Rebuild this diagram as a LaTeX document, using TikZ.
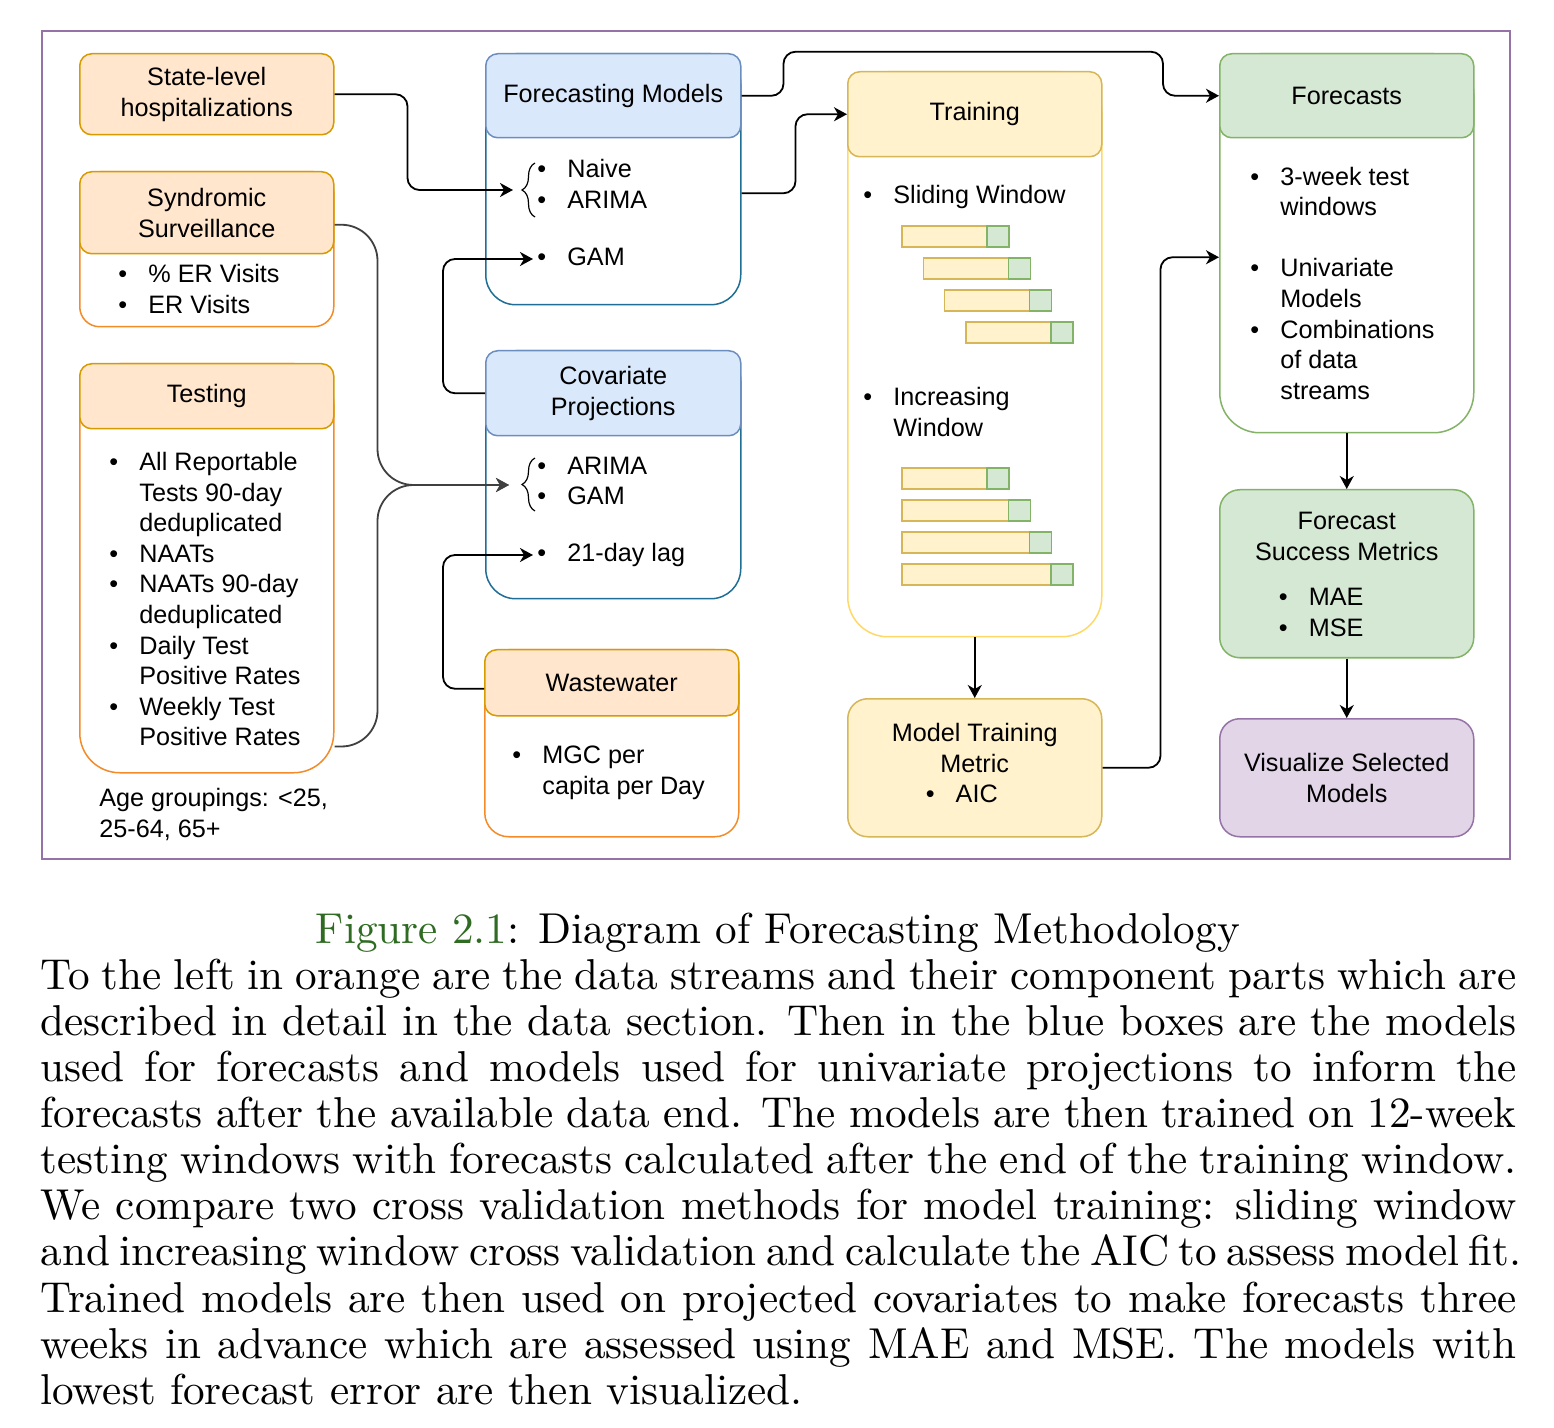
\documentclass[tikz,border=0pt]{standalone}
\usepackage{fontspec}
\newfontfamily\dgfont{Liberation Sans}
\newfontfamily\capfont{lmroman10-regular.otf}
\usetikzlibrary{arrows.meta,decorations.pathreplacing}

\definecolor{orgF}{HTML}{FFE6CC}
\definecolor{orgD}{HTML}{D79B00}
\definecolor{orgS}{HTML}{F48B29}
\definecolor{bluF}{HTML}{DAE8FC}
\definecolor{bluD}{HTML}{6C8EBF}
\definecolor{bluS}{HTML}{1F6E96}
\definecolor{ylwF}{HTML}{FFF2CC}
\definecolor{ylwD}{HTML}{D6B656}
\definecolor{ylwS}{HTML}{FFD966}
\definecolor{grnF}{HTML}{D5E8D4}
\definecolor{grnD}{HTML}{82B366}
\definecolor{prpF}{HTML}{E1D5E7}
\definecolor{prpD}{HTML}{9673A6}
\definecolor{figG}{HTML}{2F6B22}

\newcommand{\itm}[1]{\makebox[15pt][l]{\textbullet}#1\strut}
\newcommand{\cnt}[1]{\hspace*{15pt}#1\strut}
\newcommand{\jl}[1]{\makebox[738pt][s]{#1}\strut}

\begin{document}
\begin{tikzpicture}[x=0.5pt, y=-0.5pt,
    every node/.style={font=\dgfont\fontsize{12.6}{15.3}\selectfont, inner sep=0pt},
    box/.style={rectangle, line width=0.75pt, minimum width=127pt, align=center, anchor=north west},
    head/.style={box, rounded corners=6pt},
    body/.style={box, fill=white, rounded corners=#1},
    plain/.style={box, rounded corners=10pt},
    list/.style={anchor=west, align=left},
    link/.style={line width=0.9pt, rounded corners=6pt, -{Stealth[length=6.5pt,width=7pt,inset=2pt]}},
    soft/.style={link, draw=black!75, rounded corners=18pt},
    brc/.style={decorate, decoration={brace, amplitude=6.5pt}, line width=0.6pt},
    barY/.style={draw=ylwD, fill=ylwF, line width=0.6pt},
    barG/.style={draw=grnD, fill=grnF, line width=0.6pt},
    capt/.style={font=\capfont\fontsize{21.6}{23.05}\selectfont}
  ]
  \fill[white] (0,0) rectangle (1554,1428);
  \useasboundingbox (0,0) rectangle (1554,1428);
  \draw[prpD, line width=0.75pt] (42,31) rectangle (1510,859);

  % data streams
  \node[head, draw=orgD, fill=orgF, minimum height=40.5pt] (shH) at (79,53) {State-level\\hospitalizations};
  \node[body=10pt, draw=orgS, minimum height=77.5pt] (syB) at (79,171) {};
  \node[head, draw=orgD, fill=orgF, minimum height=41pt] (syH) at (79,171) {Syndromic\\Surveillance};
  \node[list] (syL) at (118,292) {\itm{\% ER Visits}\\\itm{ER Visits}};
  \node[body=20pt, draw=orgS, minimum height=204.5pt] (teB) at (79,363) {};
  \node[head, draw=orgD, fill=orgF, minimum height=32.5pt] (teH) at (79,363) {Testing};
  \node[list] (teL) at (109,602) {\itm{All Reportable}\\\cnt{Tests 90-day}\\\cnt{deduplicated}\\\itm{NAATs}\\\itm{NAATs 90-day}\\\cnt{deduplicated}\\\itm{Daily Test}\\\cnt{Positive Rates}\\\itm{Weekly Test}\\\cnt{Positive Rates}};
  \node[list] (ageN) at (99,816) {Age groupings: <25,\strut\\25-64, 65+\strut};

  % models
  \node[body=15pt, draw=bluS, minimum width=127.5pt, minimum height=125.5pt] (fmB) at (485,53) {};
  \node[head, draw=bluD, fill=bluF, minimum width=127.5pt, minimum height=42pt] (fmH) at (485,53) {Forecasting Models};
  \node[list] (fmL) at (537,187) {\itm{Naive}\\\itm{ARIMA}};
  \node[list] (gamL) at (537,259) {\itm{GAM}};
  \draw[brc] (535,217) -- (535,163);
  \coordinate (fmIn) at (513,190);

  \node[body=15pt, draw=bluS, minimum width=127.5pt, minimum height=124pt] (cpB) at (485,350) {};
  \node[head, draw=bluD, fill=bluF, minimum width=127.5pt, minimum height=42.5pt] (cpH) at (485,350) {Covariate\\Projections};
  \node[list] (cpL) at (537,483.5) {\itm{ARIMA}\\\itm{GAM}};
  \node[list] (lagL) at (537,555) {\itm{21-day lag}};
  \draw[brc] (535,511) -- (535,458);
  \coordinate (cpIn) at (509,485);

  \node[body=12pt, draw=orgS, minimum height=93.5pt] (wwB) at (484,649) {};
  \node[head, draw=orgD, fill=orgF, minimum height=33pt] (wwH) at (484,649) {Wastewater};
  \node[list] (wwL) at (512,773) {\itm{MGC per}\\\cnt{capita per Day}};

  % training
  \node[body=20pt, draw=ylwS, minimum height=282.5pt] (trB) at (847,71) {};
  \node[head, draw=ylwD, fill=ylwF, minimum height=42.5pt] (trH) at (847,71) {Training};
  \node[list] (trL1) at (863,197) {\itm{Sliding Window}};
  \node[list] (trL2) at (863,415) {\itm{Increasing}\\\cnt{Window}};
  \foreach \i in {0,...,3} {
    \draw[barY] (902+21.33*\i, 226+32*\i) rectangle ++(85,21);
    \draw[barG] (987+21.33*\i, 226+32*\i) rectangle ++(22,21);
    \draw[barY] (902, 468+32*\i) rectangle ++(85+21.33*\i,21);
    \draw[barG] (987+21.33*\i, 468+32*\i) rectangle ++(22,21);
  }
  \node[plain, draw=ylwD, fill=ylwF, minimum height=69pt] (mtm) at (847,698) {Model Training\\Metric\\\itm{AIC}\rule{13pt}{0pt}};

  % forecasts
  \node[body=20pt, draw=grnD, minimum height=189.5pt] (fcB) at (1219,53) {};
  \node[head, draw=grnD, fill=grnF, minimum height=42pt] (fcH) at (1219,53) {Forecasts};
  \node[list] (fcL) at (1250,286) {\itm{3-week test}\\\cnt{windows}\\\strut\\\itm{Univariate}\\\cnt{Models}\\\itm{Combinations}\\\cnt{of data}\\\cnt{streams}};
  \node[plain, draw=grnD, fill=grnF, minimum height=84pt] (fsm) at (1219,489) {\rule{0pt}{14pt}Forecast\\Success Metrics\\[7.5pt]\itm{MAE}\rule{25.5pt}{0pt}\\\itm{MSE}\rule{25.5pt}{0pt}};
  \node[plain, draw=prpD, fill=prpF, minimum height=59pt] (vis) at (1219,718) {Visualize Selected\\Models};

  % connectors
  \draw[link] (shH.east) -- ++(36.5pt,0) |- (fmIn);
  \draw[soft] ([yshift=-6pt]syH.east) -- ++(21.5pt,0) |- (cpIn);
  \draw[soft] ([yshift=13.5pt]teB.south east) -- ++(21.5pt,0) |- (cpIn);
  \draw[link] (cpH.west) -- ++(-21pt,0) |- ([xshift=-2pt]gamL.west);
  \draw[link] ([yshift=-3pt]wwH.west) -- ++(-20.5pt,0) |- ([xshift=-2pt]lagL.west);
  \draw[link] ([yshift=-7pt]fmB.east) -- ++(27pt,0) |- (trH.west);
  \draw[link] (fmH.east) -- ++(21pt,0) -- ++(0,22pt) -| ([xshift=-28pt]fcH.west) -- (fcH.west);
  \draw[link] (trB.south) -- (mtm.north);
  \draw[link] (mtm.east) -- ++(29pt,0) |- ([yshift=-7pt]fcB.west);
  \draw[link] (fcB.south) -- (fsm.north);
  \draw[link] (fsm.south) -- (vis.north);

  % caption
  \node[capt, anchor=base] (capT) at (778,943) {\textcolor{figG}{Figure 2.1}: Diagram of Forecasting Methodology};
  \node[capt, anchor=north west, align=left] (capB) at (40,956.7) {%
    \jl{To the left in orange are the data streams and their component parts which are}\\
    \jl{described in detail in the data section. Then in the blue boxes are the models}\\
    \jl{used for forecasts and models used for univariate projections to inform the}\\
    \jl{forecasts after the available data end. The models are then trained on 12-week}\\
    \jl{testing windows with forecasts calculated after the end of the training window.}\\
    \jl{We compare two cross validation methods for model training: sliding window}\\
    \jl{and increasing window cross validation and calculate the AIC to assess model fit.}\\
    \jl{Trained models are then used on projected covariates to make forecasts three}\\
    \jl{weeks in advance which are assessed using MAE and MSE. The models with}\\
    lowest forecast error are then visualized.\strut};
\end{tikzpicture}
\end{document}
